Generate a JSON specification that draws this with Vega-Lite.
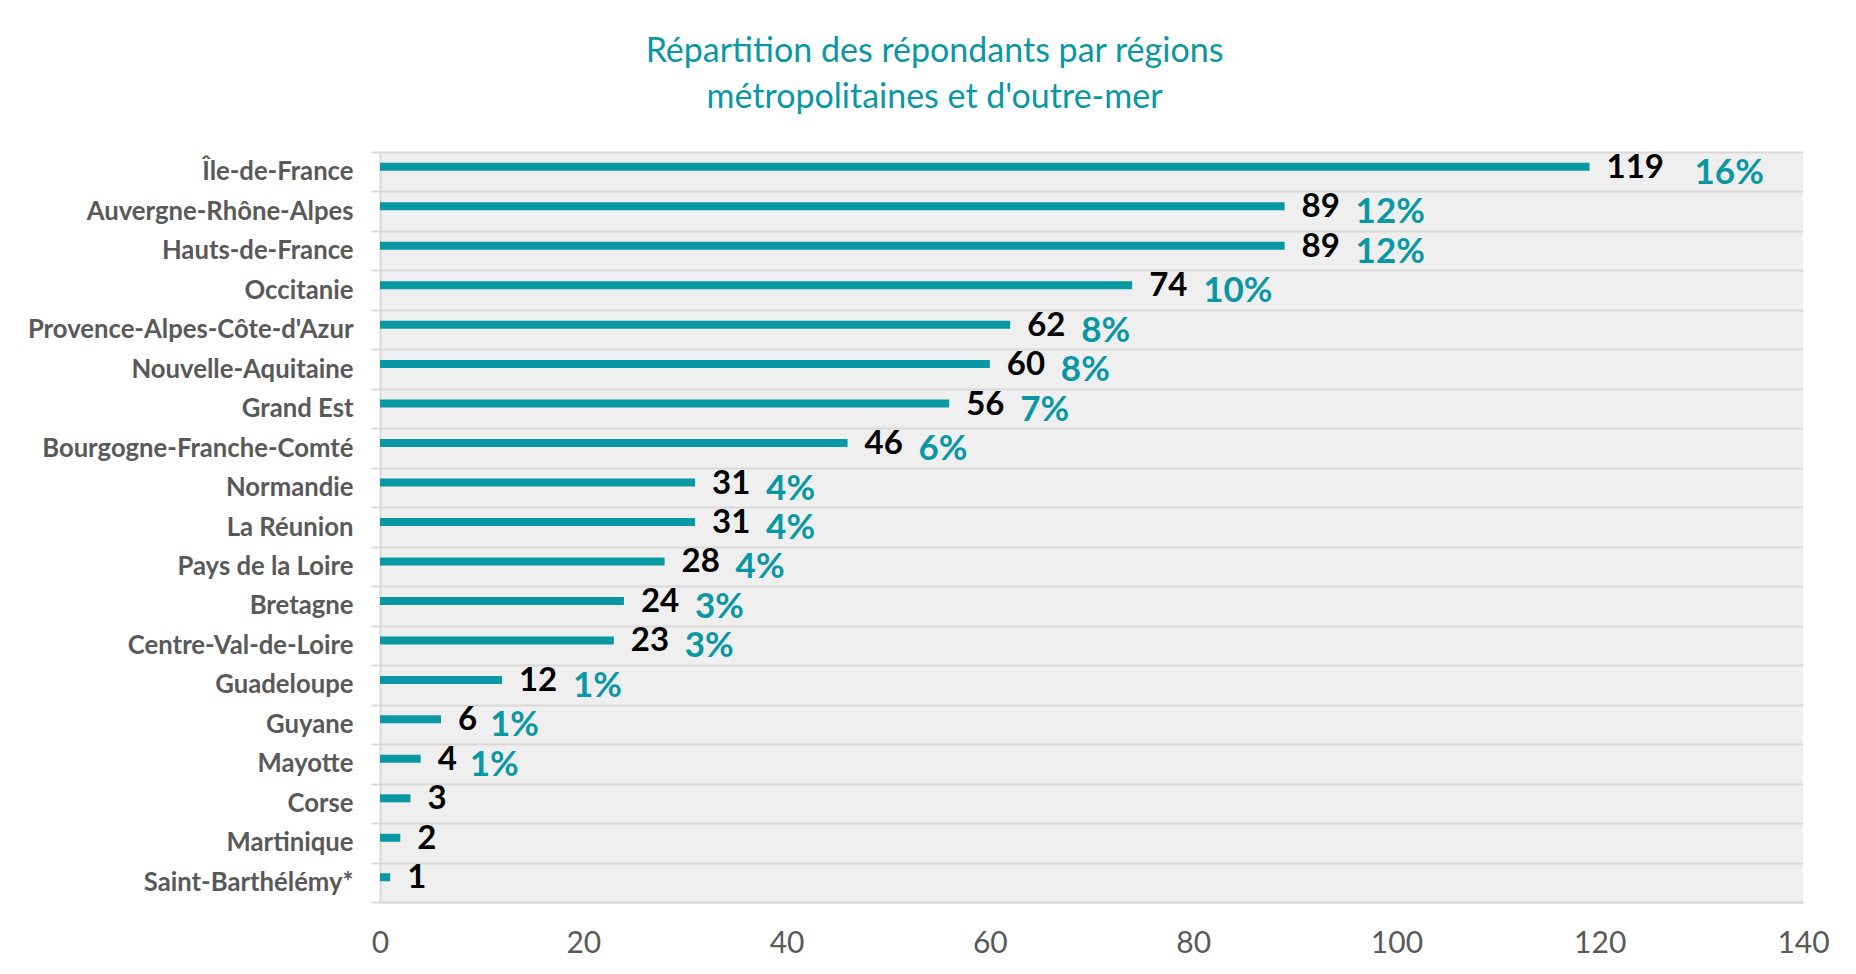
{
  "$schema": "https://vega.github.io/schema/vega-lite/v6.json",
  "width": 1423,
  "height": 750,
  "autosize": {"type": "none"},
  "padding": {"left": 380, "top": 152, "right": 53, "bottom": 72},
  "background": "white",
  "title": {
    "text": ["Répartition des répondants par régions", "métropolitaines et d'outre-mer"],
    "font": "Lato",
    "fontSize": 34,
    "fontWeight": "normal",
    "color": "#0a97a4",
    "lineHeight": 46,
    "anchor": "middle",
    "dx": -157,
    "offset": 24
  },
  "data": {
    "values": [
      {"region": "Île-de-France", "count": 119, "pct": 0.16},
      {"region": "Auvergne-Rhône-Alpes", "count": 89, "pct": 0.12},
      {"region": "Hauts-de-France", "count": 89, "pct": 0.12},
      {"region": "Occitanie", "count": 74, "pct": 0.10},
      {"region": "Provence-Alpes-Côte-d'Azur", "count": 62, "pct": 0.08},
      {"region": "Nouvelle-Aquitaine", "count": 60, "pct": 0.08},
      {"region": "Grand Est\u00a0", "count": 56, "pct": 0.07},
      {"region": "Bourgogne-Franche-Comté", "count": 46, "pct": 0.06},
      {"region": "Normandie", "count": 31, "pct": 0.04},
      {"region": "La Réunion", "count": 31, "pct": 0.04},
      {"region": "Pays de la Loire", "count": 28, "pct": 0.04},
      {"region": "Bretagne", "count": 24, "pct": 0.03},
      {"region": "Centre-Val-de-Loire", "count": 23, "pct": 0.03},
      {"region": "Guadeloupe", "count": 12, "pct": 0.01},
      {"region": "Guyane", "count": 6, "pct": 0.01},
      {"region": "Mayotte", "count": 4, "pct": 0.01},
      {"region": "Corse", "count": 3, "pct": null},
      {"region": "Martinique", "count": 2, "pct": null},
      {"region": "Saint-Barthélémy*", "count": 1, "pct": null}
    ]
  },
  "encoding": {
    "y": {
      "field": "region",
      "type": "nominal",
      "sort": null,
      "scale": {"paddingInner": 0, "paddingOuter": 0},
      "axis": {
        "title": null,
        "labelFont": "Lato",
        "labelFontWeight": "bold",
        "labelFontSize": 25.7,
        "labelColor": "#595959",
        "labelLimit": 0,
        "labelPadding": 18,
        "tickBand": "extent",
        "ticks": true,
        "tickColor": "#d9d9d9",
        "tickSize": 9,
        "tickWidth": 2,
        "grid": true,
        "gridColor": "#d9d9d9",
        "gridWidth": 2,
        "domain": true,
        "domainColor": "#d9d9d9",
        "domainWidth": 2
      }
    }
  },
  "layer": [
    {
      "mark": {"type": "bar", "height": 8, "yOffset": -5, "color": "#0a97a4"},
      "encoding": {
        "x": {
          "field": "count",
          "type": "quantitative",
          "scale": {"domain": [0, 140], "nice": false},
          "axis": {
            "title": null,
            "values": [0, 20, 40, 60, 80, 100, 120, 140],
            "grid": false,
            "ticks": false,
            "tickSize": 0,
            "domain": true,
            "domainColor": "#d9d9d9",
            "domainWidth": 2,
            "labelFlush": false,
            "labelFont": "Lato",
            "labelFontSize": 30,
            "labelColor": "#595959",
            "labelPadding": 26
          }
        }
      }
    },
    {
      "mark": {"type": "text", "align": "left", "baseline": "middle", "dx": 17, "yOffset": -4, "font": "Lato", "fontWeight": "bold", "fontSize": 33, "color": "#000000"},
      "encoding": {
        "x": {"field": "count", "type": "quantitative"},
        "text": {"field": "count", "type": "quantitative"}
      }
    },
    {
      "transform": [{"filter": "datum.pct != null && datum.count < 10"}],
      "mark": {"type": "text", "align": "left", "baseline": "middle", "dx": 49, "yOffset": 1, "font": "Lato", "fontWeight": "bold", "fontSize": 35, "color": "#0a97a4"},
      "encoding": {
        "x": {"field": "count", "type": "quantitative"},
        "text": {"field": "pct", "type": "quantitative", "format": ".0%"}
      }
    },
    {
      "transform": [{"filter": "datum.pct != null && datum.count >= 10 && datum.count < 100"}],
      "mark": {"type": "text", "align": "left", "baseline": "middle", "dx": 71, "yOffset": 1, "font": "Lato", "fontWeight": "bold", "fontSize": 35, "color": "#0a97a4"},
      "encoding": {
        "x": {"field": "count", "type": "quantitative"},
        "text": {"field": "pct", "type": "quantitative", "format": ".0%"}
      }
    },
    {
      "transform": [{"filter": "datum.pct != null && datum.count >= 100"}],
      "mark": {"type": "text", "align": "left", "baseline": "middle", "dx": 105, "yOffset": 1, "font": "Lato", "fontWeight": "bold", "fontSize": 35, "color": "#0a97a4"},
      "encoding": {
        "x": {"field": "count", "type": "quantitative"},
        "text": {"field": "pct", "type": "quantitative", "format": ".0%"}
      }
    }
  ],
  "config": {
    "view": {"fill": "#efefef", "stroke": null}
  }
}
